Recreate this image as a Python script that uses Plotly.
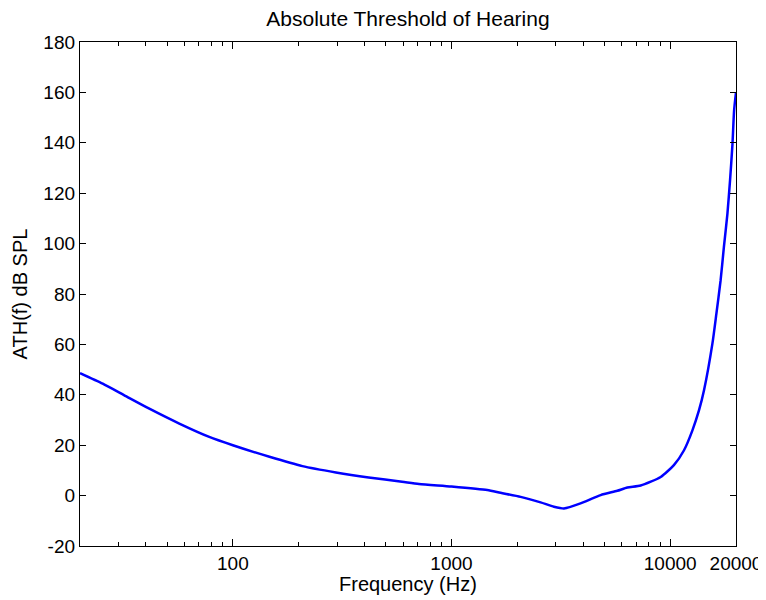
import plotly.graph_objects as go

# Data
freq_hz = [20, 25.4, 31.9, 41.5, 56.9, 78, 100, 147, 208, 296, 418, 594, 710, 1000,
           1457, 1676, 2070, 2555, 2940, 3270, 3890, 4810, 5730, 6370, 7330, 9050,
           10400, 11570, 12640, 13550, 14280, 15600, 16270, 17000, 17600, 18270,
           18780, 19270, 19600, 20000]
ath_db = [48.6, 44.4, 39.8, 34.5, 28.6, 23.3, 20.0, 15.4, 11.7, 9.2, 7.2, 5.5, 4.6, 3.6,
          2.2, 1.1, -0.5, -2.7, -4.4, -5.1, -3.1, 0.2, 1.9, 3.2, 4.0, 7.4,
          12.1, 18.0, 25.9, 33.9, 41.8, 60.3, 72.2, 85.3, 98.5, 111.8,
          125.0, 139.5, 152.7, 160.0]

x_tick_vals = [100, 1000, 10000, 20000]
x_tick_text = ["100", "1000", "10000", "20000"]
x_minor_vals = [30, 40, 50, 60, 70, 80, 90, 200, 300, 400, 500, 600, 700, 800, 900,
                2000, 3000, 4000, 5000, 6000, 7000, 8000, 9000]
y_tick_vals = [-20, 0, 20, 40, 60, 80, 100, 120, 140, 160, 180]
y_tick_text = [str(v) for v in y_tick_vals]

FONT = "Liberation Sans, Arial, sans-serif"

fig = go.Figure()
fig.add_trace(go.Scatter(
    x=freq_hz, y=ath_db, mode="lines",
    line=dict(color="#0000FF", width=2.5, shape="spline", smoothing=0.6),
    showlegend=False, hoverinfo="x+y"))

fig.update_layout(
    width=766, height=600,
    paper_bgcolor="white", plot_bgcolor="white",
    margin=dict(l=72, r=38, t=34, b=62),
    font=dict(family=FONT, size=19, color="black"),
    title=dict(text="Absolute Threshold of Hearing", x=0.5222, xanchor="center",
               y=0.983, yanchor="middle", font=dict(family=FONT, size=21, color="black")),
    annotations=[dict(text="Frequency (Hz)", xref="paper", yref="paper",
                      x=0.5, y=-0.076, xanchor="center", yanchor="middle",
                      showarrow=False, font=dict(family=FONT, size=20, color="black"))],
)
fig.update_xaxes(
    type="log", range=[1.30103, 4.30103], automargin=False,
    tickmode="array", tickvals=x_tick_vals, ticktext=x_tick_text,
    ticks="inside", ticklen=7, tickwidth=1, tickcolor="black",
    minor=dict(tickmode="array", tickvals=x_minor_vals, ticks="inside",
               ticklen=4, tickwidth=1, tickcolor="black", showgrid=False),
    showline=True, linecolor="black", linewidth=1.3, mirror="ticks",
    showgrid=False, zeroline=False,
    tickfont=dict(family=FONT, size=19),
)
fig.update_yaxes(
    range=[-20, 180], automargin=False,
    tickmode="array", tickvals=y_tick_vals, ticktext=y_tick_text,
    ticks="inside", ticklen=6, tickwidth=1, tickcolor="black",
    showline=True, linecolor="black", linewidth=1.3, mirror="ticks",
    showgrid=False, zeroline=False,
    tickfont=dict(family=FONT, size=19),
    title=dict(text="ATH(f) dB SPL", font=dict(family=FONT, size=20), standoff=10),
)

fig.write_html("out.html")
